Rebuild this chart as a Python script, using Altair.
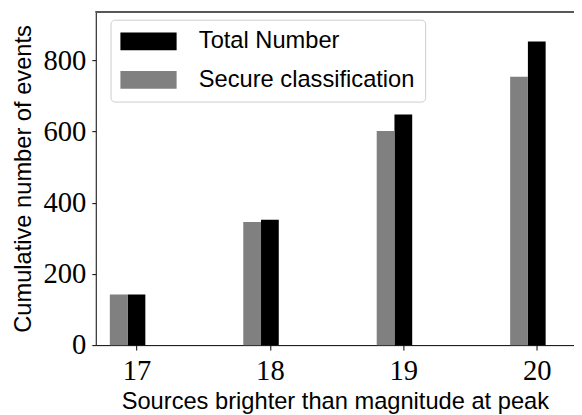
import altair as alt
import pandas as pd

# ---- data ----
magnitudes = [17, 18, 19, 20]
total_number = [142, 352, 648, 853]
secure_classification = [142, 346, 602, 754]
series_names = ["Total Number", "Secure classification"]
x_ticks = [17, 18, 19, 20]
y_ticks = [0, 200, 400, 600, 800]

# ---- styling ----
series_colors = ["#000000", "#808080"]
BAR_W = 0.133
PLOT_W = 485
PLOT_H = 338
X_DOMAIN = [16.695, 20.279]
Y_DOMAIN = [0, 936.6]
SANS = "Liberation Sans"
SERIF = "Liberation Serif"

rows = []
for m, t, s in zip(magnitudes, total_number, secure_classification):
    rows.append({"mag": m, "count": t, "series": series_names[0]})
    rows.append({"mag": m, "count": s, "series": series_names[1]})
df = pd.DataFrame(rows)

# wide legend swatch (57 x 18 px) drawn from a symbol of nominal size 24
rect_path = "M-2.375,-0.75L2.375,-0.75L2.375,0.75L-2.375,0.75Z"

bars = alt.Chart(df).transform_calculate(
    x0=f"datum.series == '{series_names[0]}' ? datum.mag - {BAR_W / 2} : datum.mag - {1.5 * BAR_W}",
    x1=f"datum.series == '{series_names[0]}' ? datum.mag + {BAR_W / 2} : datum.mag - {BAR_W / 2}",
).mark_rect().encode(
    x=alt.X(
        "x0:Q",
        scale=alt.Scale(domain=X_DOMAIN, nice=False, zero=False),
        axis=alt.Axis(
            values=x_ticks, format="d", grid=False,
            title="Sources brighter than magnitude at peak",
            labelFont=SERIF, labelFontSize=29, labelColor="#000",
            tickSize=5, tickColor="#000", labelPadding=7,
            domainColor="#000", titleFont=SANS, titleFontSize=24,
            titleFontWeight="normal", titleColor="#000", titlePadding=4,
        ),
    ),
    x2="x1:Q",
    y=alt.Y(
        "count:Q",
        scale=alt.Scale(domain=Y_DOMAIN, nice=False),
        axis=alt.Axis(
            values=y_ticks, format="d", grid=False,
            title="Cumulative number of events",
            labelFont=SERIF, labelFontSize=29, labelColor="#000",
            tickSize=4, tickColor="#000", labelPadding=6,
            domainColor="#000", titleFont=SANS, titleFontSize=24,
            titleFontWeight="normal", titleColor="#000", titlePadding=8,
        ),
    ),
    y2=alt.datum(0),
    color=alt.Color(
        "series:N",
        scale=alt.Scale(domain=series_names, range=series_colors),
        legend=alt.Legend(
            title=None, orient="none", legendX=15, legendY=8,
            symbolType=rect_path, symbolSize=576, symbolStrokeWidth=0,
            symbolOffset=16.5, symbolOpacity=1,
            labelFont=SANS, labelFontSize=24,
            labelColor="#000", labelOffset=39, labelLimit=400, rowPadding=15,
            padding=10, cornerRadius=4, strokeColor="#cccccc",
            fillColor="white",
        ),
    ),
)

frame_top = alt.Chart(df).mark_rule(color="#555555", strokeWidth=1).encode(
    x=alt.value(0), x2=alt.value(PLOT_W), y=alt.value(0)
)

chart = alt.layer(frame_top, bars).properties(
    width=PLOT_W, height=PLOT_H,
    autosize=alt.AutoSizeParams(type="none"),
    padding={"left": 89, "top": 1, "right": 0, "bottom": 70},
).configure_view(stroke=None)

chart.save("out.html", embed_options={"renderer": "svg", "actions": False})
